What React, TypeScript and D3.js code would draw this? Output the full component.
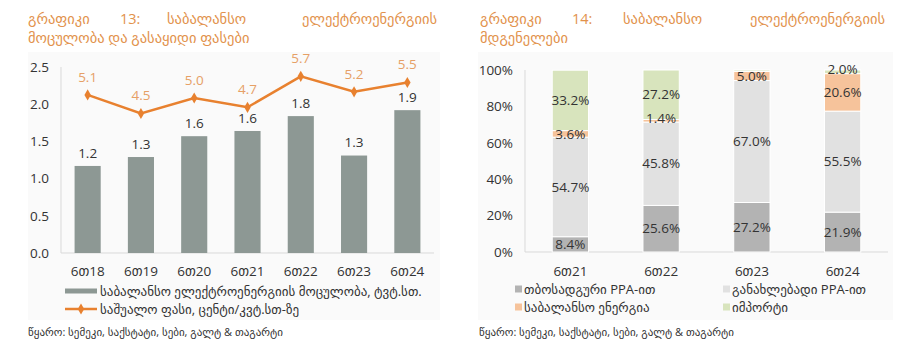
import React from 'react';
import * as d3 from 'd3';

// chart 13: volume (bars) and price (line)
const periods13 = ['6თ18', '6თ19', '6თ20', '6თ21', '6თ22', '6თ23', '6თ24'];
const volume = [1.17, 1.29, 1.57, 1.64, 1.84, 1.31, 1.92];
const volumeLabels = ['1.2', '1.3', '1.6', '1.6', '1.8', '1.3', '1.9'];
const price = [5.1, 4.5, 5.0, 4.7, 5.7, 5.2, 5.5];
const yTicks13 = [0, 0.5, 1, 1.5, 2, 2.5];

// chart 14: balancing electricity composition
const periods14 = ['6თ21', '6თ22', '6თ23', '6თ24'];
const thermal = [8.4, 25.6, 27.2, 21.9];
const renewable = [54.7, 45.8, 67.0, 55.5];
const balancing = [3.6, 1.4, 5.0, 20.6];
const imports = [33.2, 27.2, 0.8, 2.0];
const yTicks14 = [0, 20, 40, 60, 80, 100];

const seriesNames = ['თბოსადგური PPA-ით', 'განახლებადი PPA-ით', 'საბალანსო ენერგია', 'იმპორტი'];
const seriesColors = ['#b3b3b3', '#e1e1e1', '#f6c39b', '#d8e4bd'];

const FONT = '"Open Sans", "DejaVu Sans", sans-serif';
const TITLE = '#e2924c';
const TXT = '#333333';

const Title = ({ words, xs, endX, line2, x0 }: any) => (
  <g fill={TITLE} fontSize={14.5} fontFamily={FONT}>
    {words.map((w: string, i: number) => (
      <text key={i} x={i === words.length - 1 ? endX : xs[i]} y={24}
        textAnchor={i === words.length - 1 ? 'end' : 'start'}>{w}</text>
    ))}
    <text x={x0} y={43}>{line2}</text>
  </g>
);

const LeftChart = () => {
  const x = d3.scaleBand().domain(periods13).range([61, 434]).paddingInner(0.51).paddingOuter(0.255);
  const y = d3.scaleLinear().domain([0, 2.5]).range([253, 67]);
  const y2 = d3.scaleLinear().domain([0, 6]).range([253, 67]);
  const cx = (p: string) => (x(p) as number) + x.bandwidth() / 2;
  const line = d3.line<number>().x((_, i) => cx(periods13[i])).y(d => y2(d));
  const diamond = d3.symbol(d3.symbolDiamond, 36)();
  return (
    <g fontFamily={FONT}>
      <rect x={28} y={52} width={412} height={268} fill="#fafafa" />
      <Title words={['გრაფიკი', '13:', 'საბალანსო', 'ელექტროენერგიის']} xs={[28, 120, 167]} endX={437}
        line2="მოცულობა და გასაყიდი ფასები" x0={28} />
      {yTicks13.map(t => (
        <text key={t} x={49} y={y(t)} dy="0.35em" textAnchor="end" fontSize={13.5} fill={TXT}>{t.toFixed(1)}</text>
      ))}
      <line x1={61} x2={61} y1={67} y2={253} stroke="#d9d9d9" />
      <line x1={61} x2={434} y1={253} y2={253} stroke="#d9d9d9" />
      {periods13.map((p, i) => (
        <g key={p}>
          <rect x={x(p)} y={y(volume[i])} width={x.bandwidth()} height={y(0) - y(volume[i])} fill="#8d9894" />
          <text x={cx(p)} y={y(volume[i]) - 13} dy="0.35em" textAnchor="middle" fontSize={13.5} fill={TXT}>{volumeLabels[i]}</text>
          <text x={cx(p)} y={271} dy="0.35em" textAnchor="middle" fontSize={13.5} fill={TXT}>{p}</text>
        </g>
      ))}
      <path d={line(price) as string} fill="none" stroke="#e8812f" strokeWidth={2.5} />
      {price.map((v, i) => (
        <g key={i}>
          <path d={diamond as string} transform={`translate(${cx(periods13[i])},${y2(v)})`} fill="#e8812f" />
          <text x={cx(periods13[i])} y={y2(v) - 18} dy="0.35em" textAnchor="middle" fontSize={13.5} fill="#e6a066">{v.toFixed(1)}</text>
        </g>
      ))}
      <rect x={65} y={288.5} width={32} height={5} fill="#8d9894" />
      <text x={100} y={291} dy="0.35em" fontSize={13} fill={TXT}>საბალანსო ელექტროენერგიის მოცულობა, ტვტ.სთ.</text>
      <line x1={65} x2={97} y1={309} y2={309} stroke="#e8812f" strokeWidth={2.5} />
      <path d={diamond as string} transform="translate(81,309)" fill="#e8812f" />
      <text x={100} y={309} dy="0.35em" fontSize={13} fill={TXT}>საშუალო ფასი, ცენტი/კვტ.სთ-ზე</text>
      <text x={28} y={332} dy="0.35em" fontSize={11} fill={TXT}>წყარო: სემეკი, საქსტატი, სები, გალტ &amp; თაგარტი</text>
    </g>
  );
};

const RightChart = () => {
  const x = d3.scaleBand().domain(periods14).range([525, 888]).paddingInner(0.6).paddingOuter(0.3);
  const y = d3.scaleLinear().domain([0, 100]).range([252, 70]);
  const rows = periods14.map((p, i) => ({ p, s0: thermal[i], s1: renewable[i], s2: balancing[i], s3: imports[i] }));
  const stack = d3.stack<any>().keys(['s0', 's1', 's2', 's3'])(rows);
  const bx = (i: number) => (x(periods14[i]) as number) + x.bandwidth() / 2;
  return (
    <g fontFamily={FONT}>
      <rect x={478} y={52} width={415} height={268} fill="#fafafa" />
      <Title words={['გრაფიკი', '14:', 'საბალანსო', 'ელექტროენერგიის']} xs={[480, 572, 623]} endX={885}
        line2="მდგენელები" x0={480} />
      {yTicks14.map(t => (
        <text key={t} x={513} y={y(t)} dy="0.35em" textAnchor="end" fontSize={13.5} fill={TXT}>{t}%</text>
      ))}
      <line x1={525} x2={525} y1={70} y2={252} stroke="#d9d9d9" />
      <line x1={525} x2={888} y1={252} y2={252} stroke="#d9d9d9" />
      {stack.map((layer, k) => (
        <g key={k}>
          {layer.map((d, i) => (
            <rect key={i} x={x(periods14[i])} y={y(d[1])} width={x.bandwidth()} height={y(d[0]) - y(d[1])}
              fill={seriesColors[k]} stroke="#ffffff" strokeWidth={1} />
          ))}
        </g>
      ))}
      {stack.map((layer, k) => (
        <g key={'l' + k}>
          {layer.map((d, i) => d[1] - d[0] >= 1 && (
            <text key={i} x={bx(i)}
              y={y((d[0] + d[1]) / 2) - (d[1] - d[0] < 3 ? 3 : 0)} dy="0.35em" textAnchor="middle"
              fontSize={13.5} fill={TXT}>{(d[1] - d[0]).toFixed(1)}%</text>
          ))}
        </g>
      ))}
      {periods14.map((p, i) => (
        <text key={p} x={bx(i)} y={271} dy="0.35em" textAnchor="middle" fontSize={13.5} fill={TXT}>{p}</text>
      ))}
      {seriesNames.map((n, k) => {
        const lx = k % 2 === 0 ? 515 : 723;
        const ly = k < 2 ? 289 : 307;
        return (
          <g key={n}>
            <rect x={lx} y={ly - 3.5} width={7} height={7} fill={seriesColors[k]} />
            <text x={lx + 9} y={ly} dy="0.35em" fontSize={13} fill={TXT}>{n}</text>
          </g>
        );
      })}
      <text x={479} y={332} dy="0.35em" fontSize={11} fill={TXT}>წყარო: სემეკი, საქსტატი, სები, გალტ &amp; თაგარტი</text>
    </g>
  );
};

export default function App() {
  return (
    <svg width={897} height={362} style={{ position: 'absolute', left: 0, top: 0, background: '#ffffff' }}>
      <LeftChart />
      <RightChart />
    </svg>
  );
}
